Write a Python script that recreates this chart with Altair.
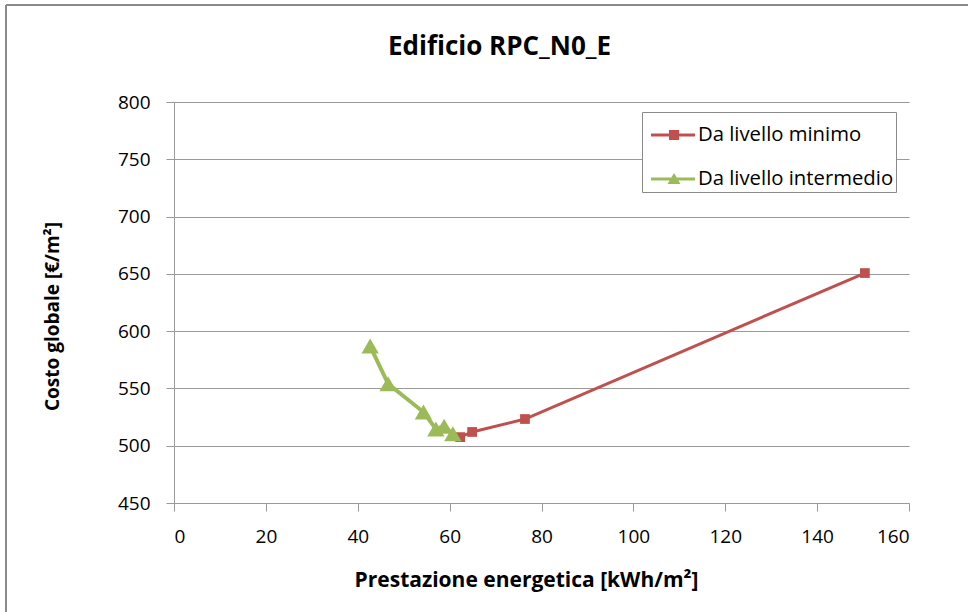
import altair as alt
import pandas as pd

titolo = "Edificio RPC_N0_E"
serie_min = "Da livello minimo"
serie_int = "Da livello intermedio"

min_x = [62.3, 64.9, 76.4, 150.4]
min_y = [507.5, 512.0, 523.3, 650.7]
int_x = [42.7, 46.6, 54.3, 57.0, 58.8, 60.7]
int_y = [587.0, 554.0, 529.4, 514.6, 517.0, 510.5]

x_ticks = [0, 20, 40, 60, 80, 100, 120, 140, 160]
y_ticks = [450, 500, 550, 600, 650, 700, 750, 800]

RED = "#C0504D"
GREEN = "#9BBB59"
FONT = "Open Sans"

df_min = pd.DataFrame({"x": min_x, "y": min_y, "serie": serie_min, "ordine": range(len(min_x))})
df_int = pd.DataFrame({"x": int_x, "y": int_y, "serie": serie_int, "ordine": range(len(int_x))})
df_all = pd.concat([df_min, df_int], ignore_index=True)

xs = alt.Scale(domain=[0, 160], nice=False, zero=False)
ys = alt.Scale(domain=[450, 800], nice=False, zero=False)

x_enc = alt.X(
    "x:Q", scale=xs,
    axis=alt.Axis(
        values=x_ticks, title="Prestazione energetica [kWh/m²]", grid=False,
        titleX=352, titleY=77, titleBaseline="middle", titleAlign="center", titleFontSize=21,
    ),
)
y_enc = alt.Y(
    "y:Q", scale=ys,
    axis=alt.Axis(
        values=y_ticks, title="Costo globale [€/m²]", grid=True,
        titleX=-122, titleY=214, titleBaseline="middle", titleAlign="center", titleAngle=-90,
        titleFontSize=19,
    ),
)

border_left = alt.Chart(df_min.head(1)).mark_rule(color="#8a8a8a", strokeWidth=2).encode(
    x=alt.value(-168), y=alt.value(-97), y2=alt.value(520)
)
border_top = alt.Chart(df_min.head(1)).mark_rule(color="#8a8a8a", strokeWidth=2).encode(
    x=alt.value(-168), x2=alt.value(800), y=alt.value(-97)
)

line_min = alt.Chart(df_min).mark_line(color=RED, strokeWidth=3).encode(
    x=x_enc, y=y_enc, order="ordine:Q"
)
pts_min = alt.Chart(df_min).mark_point(shape="square", filled=True, color=RED, size=95, opacity=1).encode(
    x=x_enc, y=y_enc
)
line_int = alt.Chart(df_int).mark_line(color=GREEN, strokeWidth=4).encode(
    x=x_enc, y=y_enc, order="ordine:Q"
)
pts_int = alt.Chart(df_int).mark_point(shape="triangle-up", filled=True, color=GREEN, size=300, opacity=1).encode(
    x=x_enc, y=y_enc
)

path_sq = "M-0.667,-0.07H1.43V0.07H-0.667Z M0.19,-0.24H0.67V0.24H0.19Z"
path_tr = "M-0.667,-0.07H1.43V0.07H-0.667Z M0.43,-0.28L0.74,0.24H0.12Z"

legend = alt.Legend(
    title=None, orient="none", legendX=468, legendY=10,
    strokeColor="#8a8a8a", fillColor="white", padding=2, rowPadding=12,
    symbolSize=1764, symbolStrokeWidth=0, labelOffset=12, labelLimit=400,
    labelFont=FONT, labelFontSize=20.3, labelColor="black", cornerRadius=0,
)
legend_layer = alt.Chart(df_all).transform_filter("false").mark_point(filled=True, opacity=1, size=1764).encode(
    x=x_enc, y=y_enc,
    color=alt.Color("serie:N", scale=alt.Scale(domain=[serie_min, serie_int], range=[RED, GREEN]), legend=legend),
    shape=alt.Shape("serie:N", scale=alt.Scale(domain=[serie_min, serie_int], range=[path_sq, path_tr]), legend=legend),
)

chart = alt.layer(
    border_left, border_top, line_min, pts_min, line_int, pts_int, legend_layer
).properties(
    width=735, height=401,
    background="white",
    title=alt.TitleParams(titolo, font=FONT, fontSize=26, fontWeight="bold", color="black",
                          anchor="middle", frame="group", baseline="alphabetic", dx=-42, offset=-77),
    autosize=alt.AutoSizeParams(type="none"),
    padding={"left": 174, "top": 102, "right": 59, "bottom": 109},
).configure_view(stroke=None).configure_axis(
    domainColor="#9a9a9a", tickColor="#9a9a9a", gridColor="#9a9a9a",
    domainWidth=1, tickWidth=1, gridWidth=1, tickSize=8,
    labelFont=FONT, labelFontSize=19, labelColor="black", labelPadding=16,
    titleFont=FONT, titleFontSize=18, titleFontWeight="bold", titleColor="black",
)

chart.save("out.html", embed_options={"renderer": "svg", "actions": False})
